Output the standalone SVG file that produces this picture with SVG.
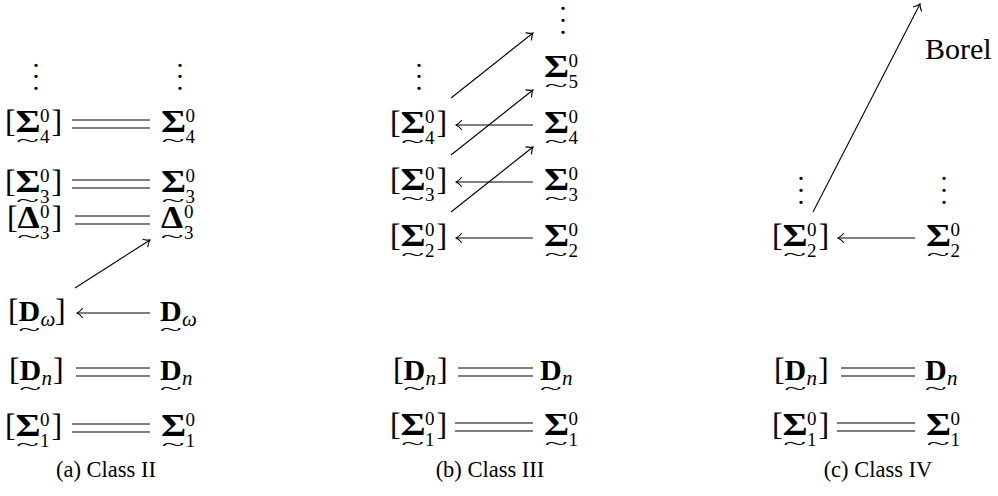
<svg xmlns="http://www.w3.org/2000/svg" width="998" height="496" viewBox="0 0 998 496">
<style>
.t{font-family:"Liberation Serif","Times New Roman",serif;fill:#000}
.r{font-size:32px}
.B{font-size:32px;font-weight:bold}
.D{font-size:30px;font-weight:bold}
.s{font-size:19px}
.si{font-size:21px;font-style:italic}
.w{font-size:20px}
.cap{font-size:22.5px}
.bo{font-size:30px}
.vd{font-size:28px;text-anchor:middle}
.ln{stroke:#000;stroke-width:1.1;fill:none}
.ar{marker-end:url(#ah)}
</style>
<defs>
<marker id="ah" viewBox="-7 -6 8 12" refX="0" refY="0" markerWidth="8" markerHeight="12" markerUnits="userSpaceOnUse" orient="auto">
<path d="M-5.5,-4.5 C-3.5,-2 -1.2,-0.6 0,0 C-1.2,0.6 -3.5,2 -5.5,4.5" fill="none" stroke="#000" stroke-width="1.1" stroke-linecap="round"/>
</marker>
</defs>

<!-- ===== Panel (a) ===== -->
<g id="a-vdots-l"><text class="t vd"><tspan x="36" y="66.5">.</tspan><tspan x="36" y="78">.</tspan><tspan x="36" y="89.5">.</tspan></text></g>
<g id="a-vdots-r"><text class="t vd"><tspan x="180" y="66.5">.</tspan><tspan x="180" y="78">.</tspan><tspan x="180" y="89.5">.</tspan></text></g>

<g id="a-l-s4" transform="translate(5,132)">
<text class="t r" x="0" y="0">[</text>
<text class="t B" transform="translate(10.5,0) scale(1.2,1)">Σ</text>
<text class="t w" text-anchor="middle" transform="translate(22.5,13.5) scale(2.1,0.85)">~</text>
<text class="t s" x="35" y="-10.5">0</text>
<text class="t s" x="35" y="10.5">4</text>
<text class="t r" x="46.5" y="0">]</text>
</g>
<g id="a-r-s4" transform="translate(161,132)">
<text class="t B" transform="scale(1.2,1)">Σ</text>
<text class="t w" text-anchor="middle" transform="translate(12,13.5) scale(2.1,0.85)">~</text>
<text class="t s" x="24.5" y="-10.5">0</text>
<text class="t s" x="24.5" y="10.5">4</text>
</g>

<g id="a-l-s3" transform="translate(5,192)">
<text class="t r" x="0" y="0">[</text>
<text class="t B" transform="translate(10.5,0) scale(1.2,1)">Σ</text>
<text class="t w" text-anchor="middle" transform="translate(22.5,13.5) scale(2.1,0.85)">~</text>
<text class="t s" x="35" y="-10.5">0</text>
<text class="t s" x="35" y="10.5">3</text>
<text class="t r" x="46.5" y="0">]</text>
</g>
<g id="a-r-s3" transform="translate(161,192)">
<text class="t B" transform="scale(1.2,1)">Σ</text>
<text class="t w" text-anchor="middle" transform="translate(12,13.5) scale(2.1,0.85)">~</text>
<text class="t s" x="24.5" y="-10.5">0</text>
<text class="t s" x="24.5" y="10.5">3</text>
</g>

<g id="a-l-d3" transform="translate(7,228)">
<text class="t r" x="0" y="0">[</text>
<text class="t B" transform="translate(10.5,0) scale(1.1,1)">Δ</text>
<text class="t w" text-anchor="middle" transform="translate(21.5,13.5) scale(2.1,0.85)">~</text>
<text class="t s" x="33" y="-10.5">0</text>
<text class="t s" x="33" y="10.5">3</text>
<text class="t r" x="44.5" y="0">]</text>
</g>
<g id="a-r-d3" transform="translate(161,228)">
<text class="t B" transform="scale(1.1,1)">Δ</text>
<text class="t w" text-anchor="middle" transform="translate(11,13.5) scale(2.1,0.85)">~</text>
<text class="t s" x="23" y="-10.5">0</text>
<text class="t s" x="23" y="10.5">3</text>
</g>

<g id="a-l-dw" transform="translate(8,321)">
<text class="t r" x="0" y="0">[</text>
<text class="t D" x="10.5" y="0">D</text>
<text class="t w" text-anchor="middle" transform="translate(21.3,13.5) scale(2,0.85)">~</text>
<text class="t si" x="32.5" y="4.5">ω</text>
<text class="t r" x="47" y="0">]</text>
</g>
<g id="a-r-dw" transform="translate(160,321)">
<text class="t D" x="0" y="0">D</text>
<text class="t w" text-anchor="middle" transform="translate(10.8,13.5) scale(2,0.85)">~</text>
<text class="t si" x="22" y="4.5">ω</text>
</g>

<g id="a-l-dn" transform="translate(9,380)">
<text class="t r" x="0" y="0">[</text>
<text class="t D" x="10.5" y="0">D</text>
<text class="t w" text-anchor="middle" transform="translate(21.3,13.5) scale(2,0.85)">~</text>
<text class="t si" x="32.5" y="4.5">n</text>
<text class="t r" x="44" y="0">]</text>
</g>
<g id="a-r-dn" transform="translate(160,380)">
<text class="t D" x="0" y="0">D</text>
<text class="t w" text-anchor="middle" transform="translate(10.8,13.5) scale(2,0.85)">~</text>
<text class="t si" x="22" y="4.5">n</text>
</g>

<g id="a-l-s1" transform="translate(5,436)">
<text class="t r" x="0" y="0">[</text>
<text class="t B" transform="translate(10.5,0) scale(1.2,1)">Σ</text>
<text class="t w" text-anchor="middle" transform="translate(22.5,13.5) scale(2.1,0.85)">~</text>
<text class="t s" x="35" y="-10.5">0</text>
<text class="t s" x="35" y="10.5">1</text>
<text class="t r" x="46.5" y="0">]</text>
</g>
<g id="a-r-s1" transform="translate(161,436)">
<text class="t B" transform="scale(1.2,1)">Σ</text>
<text class="t w" text-anchor="middle" transform="translate(12,13.5) scale(2.1,0.85)">~</text>
<text class="t s" x="24.5" y="-10.5">0</text>
<text class="t s" x="24.5" y="10.5">1</text>
</g>

<g id="a-caption"><text class="t cap" x="106" y="477" text-anchor="middle">(a) Class II</text></g>

<!-- ===== Panel (b) ===== -->
<g id="b-vdots-l"><text class="t vd"><tspan x="419" y="66.5">.</tspan><tspan x="419" y="78">.</tspan><tspan x="419" y="89.5">.</tspan></text></g>
<g id="b-vdots-r"><text class="t vd"><tspan x="563" y="9.5">.</tspan><tspan x="563" y="21.5">.</tspan><tspan x="563" y="33.5">.</tspan></text></g>

<g id="b-r-s5" transform="translate(544,77)">
<text class="t B" transform="scale(1.2,1)">Σ</text>
<text class="t w" text-anchor="middle" transform="translate(12,13.5) scale(2.1,0.85)">~</text>
<text class="t s" x="24.5" y="-10.5">0</text>
<text class="t s" x="24.5" y="10.5">5</text>
</g>

<g id="b-l-s4" transform="translate(390,133)">
<text class="t r" x="0" y="0">[</text>
<text class="t B" transform="translate(10.5,0) scale(1.2,1)">Σ</text>
<text class="t w" text-anchor="middle" transform="translate(22.5,13.5) scale(2.1,0.85)">~</text>
<text class="t s" x="35" y="-10.5">0</text>
<text class="t s" x="35" y="10.5">4</text>
<text class="t r" x="46.5" y="0">]</text>
</g>
<g id="b-r-s4" transform="translate(544,133)">
<text class="t B" transform="scale(1.2,1)">Σ</text>
<text class="t w" text-anchor="middle" transform="translate(12,13.5) scale(2.1,0.85)">~</text>
<text class="t s" x="24.5" y="-10.5">0</text>
<text class="t s" x="24.5" y="10.5">4</text>
</g>

<g id="b-l-s3" transform="translate(390,190)">
<text class="t r" x="0" y="0">[</text>
<text class="t B" transform="translate(10.5,0) scale(1.2,1)">Σ</text>
<text class="t w" text-anchor="middle" transform="translate(22.5,13.5) scale(2.1,0.85)">~</text>
<text class="t s" x="35" y="-10.5">0</text>
<text class="t s" x="35" y="10.5">3</text>
<text class="t r" x="46.5" y="0">]</text>
</g>
<g id="b-r-s3" transform="translate(544,190)">
<text class="t B" transform="scale(1.2,1)">Σ</text>
<text class="t w" text-anchor="middle" transform="translate(12,13.5) scale(2.1,0.85)">~</text>
<text class="t s" x="24.5" y="-10.5">0</text>
<text class="t s" x="24.5" y="10.5">3</text>
</g>

<g id="b-l-s2" transform="translate(390,246)">
<text class="t r" x="0" y="0">[</text>
<text class="t B" transform="translate(10.5,0) scale(1.2,1)">Σ</text>
<text class="t w" text-anchor="middle" transform="translate(22.5,13.5) scale(2.1,0.85)">~</text>
<text class="t s" x="35" y="-10.5">0</text>
<text class="t s" x="35" y="10.5">2</text>
<text class="t r" x="46.5" y="0">]</text>
</g>
<g id="b-r-s2" transform="translate(544,246)">
<text class="t B" transform="scale(1.2,1)">Σ</text>
<text class="t w" text-anchor="middle" transform="translate(12,13.5) scale(2.1,0.85)">~</text>
<text class="t s" x="24.5" y="-10.5">0</text>
<text class="t s" x="24.5" y="10.5">2</text>
</g>

<g id="b-l-dn" transform="translate(393,380)">
<text class="t r" x="0" y="0">[</text>
<text class="t D" x="10.5" y="0">D</text>
<text class="t w" text-anchor="middle" transform="translate(21.3,13.5) scale(2,0.85)">~</text>
<text class="t si" x="32.5" y="4.5">n</text>
<text class="t r" x="44" y="0">]</text>
</g>
<g id="b-r-dn" transform="translate(540,380)">
<text class="t D" x="0" y="0">D</text>
<text class="t w" text-anchor="middle" transform="translate(10.8,13.5) scale(2,0.85)">~</text>
<text class="t si" x="22" y="4.5">n</text>
</g>

<g id="b-l-s1" transform="translate(390,435)">
<text class="t r" x="0" y="0">[</text>
<text class="t B" transform="translate(10.5,0) scale(1.2,1)">Σ</text>
<text class="t w" text-anchor="middle" transform="translate(22.5,13.5) scale(2.1,0.85)">~</text>
<text class="t s" x="35" y="-10.5">0</text>
<text class="t s" x="35" y="10.5">1</text>
<text class="t r" x="46.5" y="0">]</text>
</g>
<g id="b-r-s1" transform="translate(544,435)">
<text class="t B" transform="scale(1.2,1)">Σ</text>
<text class="t w" text-anchor="middle" transform="translate(12,13.5) scale(2.1,0.85)">~</text>
<text class="t s" x="24.5" y="-10.5">0</text>
<text class="t s" x="24.5" y="10.5">1</text>
</g>

<g id="b-caption"><text class="t cap" x="490" y="477" text-anchor="middle">(b) Class III</text></g>

<!-- ===== Panel (c) ===== -->
<g id="c-vdots-l"><text class="t vd"><tspan x="801" y="179.5">.</tspan><tspan x="801" y="191.5">.</tspan><tspan x="801" y="203.5">.</tspan></text></g>
<g id="c-vdots-r"><text class="t vd"><tspan x="944" y="179.5">.</tspan><tspan x="944" y="191.5">.</tspan><tspan x="944" y="203.5">.</tspan></text></g>

<g id="c-borel"><text class="t bo" x="925" y="59">Borel</text></g>

<g id="c-l-s2" transform="translate(772,246)">
<text class="t r" x="0" y="0">[</text>
<text class="t B" transform="translate(10.5,0) scale(1.2,1)">Σ</text>
<text class="t w" text-anchor="middle" transform="translate(22.5,13.5) scale(2.1,0.85)">~</text>
<text class="t s" x="35" y="-10.5">0</text>
<text class="t s" x="35" y="10.5">2</text>
<text class="t r" x="46.5" y="0">]</text>
</g>
<g id="c-r-s2" transform="translate(926,246)">
<text class="t B" transform="scale(1.2,1)">Σ</text>
<text class="t w" text-anchor="middle" transform="translate(12,13.5) scale(2.1,0.85)">~</text>
<text class="t s" x="24.5" y="-10.5">0</text>
<text class="t s" x="24.5" y="10.5">2</text>
</g>

<g id="c-l-dn" transform="translate(774,380)">
<text class="t r" x="0" y="0">[</text>
<text class="t D" x="10.5" y="0">D</text>
<text class="t w" text-anchor="middle" transform="translate(21.3,13.5) scale(2,0.85)">~</text>
<text class="t si" x="32.5" y="4.5">n</text>
<text class="t r" x="44" y="0">]</text>
</g>
<g id="c-r-dn" transform="translate(925,380)">
<text class="t D" x="0" y="0">D</text>
<text class="t w" text-anchor="middle" transform="translate(10.8,13.5) scale(2,0.85)">~</text>
<text class="t si" x="22" y="4.5">n</text>
</g>

<g id="c-l-s1" transform="translate(772,435)">
<text class="t r" x="0" y="0">[</text>
<text class="t B" transform="translate(10.5,0) scale(1.2,1)">Σ</text>
<text class="t w" text-anchor="middle" transform="translate(22.5,13.5) scale(2.1,0.85)">~</text>
<text class="t s" x="35" y="-10.5">0</text>
<text class="t s" x="35" y="10.5">1</text>
<text class="t r" x="46.5" y="0">]</text>
</g>
<g id="c-r-s1" transform="translate(926,435)">
<text class="t B" transform="scale(1.2,1)">Σ</text>
<text class="t w" text-anchor="middle" transform="translate(12,13.5) scale(2.1,0.85)">~</text>
<text class="t s" x="24.5" y="-10.5">0</text>
<text class="t s" x="24.5" y="10.5">1</text>
</g>

<g id="c-caption"><text class="t cap" x="878" y="477" text-anchor="middle">(c) Class IV</text></g>

<!-- ===== Connectors ===== -->
<g id="connectors">
<!-- (a) -->
<path class="ln" d="M72,120H150M72,128H150"/>
<path class="ln" d="M72,180H150M72,188H150"/>
<path class="ln" d="M75,216H150M75,224H150"/>
<path class="ln ar" d="M75,288L150,240"/>
<path class="ln ar" d="M150,313H77"/>
<path class="ln" d="M76,368H150M76,376H150"/>
<path class="ln" d="M72,424H150M72,432H150"/>
<!-- (b) -->
<path class="ln ar" d="M451,98L533,33"/>
<path class="ln ar" d="M451,155L533,90"/>
<path class="ln ar" d="M451,212L533,147"/>
<path class="ln ar" d="M533,125H456"/>
<path class="ln ar" d="M533,182H456"/>
<path class="ln ar" d="M533,238H456"/>
<path class="ln" d="M458,368H533M458,376H533"/>
<path class="ln" d="M455,423H533M455,431H533"/>
<!-- (c) -->
<path class="ln ar" d="M813,212L920,4"/>
<path class="ln ar" d="M915,238H838"/>
<path class="ln" d="M841,368H915M841,376H915"/>
<path class="ln" d="M837,423H915M837,431H915"/>
</g>
</svg>
